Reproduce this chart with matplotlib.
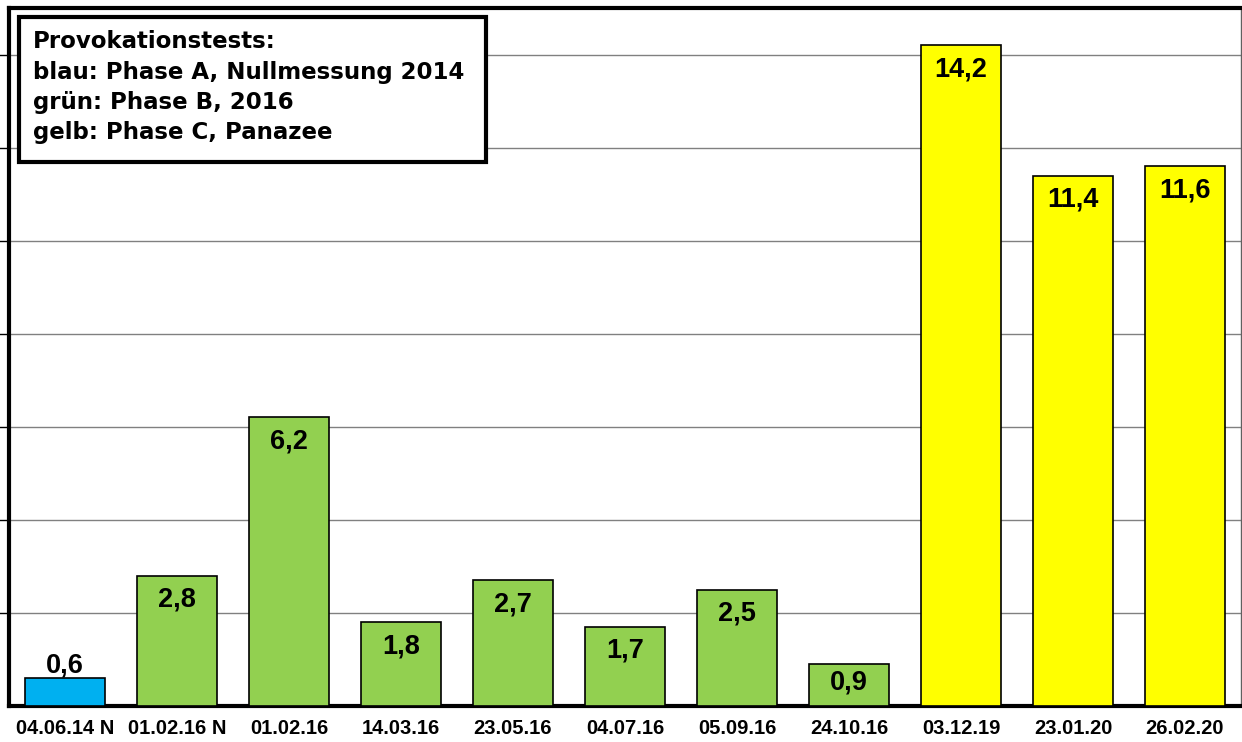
import matplotlib
matplotlib.use("Agg")
import matplotlib.pyplot as plt
from matplotlib.patches import Rectangle

categories = ["04.06.14 N", "01.02.16 N", "01.02.16", "14.03.16", "23.05.16",
              "04.07.16", "05.09.16", "24.10.16", "03.12.19", "23.01.20", "26.02.20"]
values = [0.6, 2.8, 6.2, 1.8, 2.7, 1.7, 2.5, 0.9, 14.2, 11.4, 11.6]
phases = ["A", "B", "B", "B", "B", "B", "B", "B", "C", "C", "C"]
phase_colors = {"A": "#00B0F0", "B": "#92D050", "C": "#FFFF00"}
legend_lines = ["Provokationstests:", "blau: Phase A, Nullmessung 2014",
                "grün: Phase B, 2016", "gelb: Phase C, Panazee"]

plt.rcParams['font.family'] = ['Liberation Sans', 'DejaVu Sans']

W, H = 1242, 742
fig = plt.figure(figsize=(W/100, H/100), dpi=100)
ax = fig.add_axes([9/W, 1-706/H, (1241-9)/W, (706-8)/H])

x = list(range(len(categories)))
cols = [phase_colors[p] for p in phases]
ax.bar(x, values, width=0.714, color=cols, edgecolor="black", linewidth=1.2, zorder=3)
ax.set_xlim(-0.5, len(categories)-0.5)
ax.set_ylim(0, 15)
ax.set_yticks(range(2, 15, 2))
ax.set_yticklabels([])
ax.tick_params(axis='y', direction='out', length=8, width=1, color='black')
ax.yaxis.grid(True, color='#808080', linewidth=1, zorder=0)
ax.set_xticks(x)
ax.set_xticklabels(categories, fontsize=14.5, fontweight='bold')
ax.tick_params(axis='x', length=0, pad=9)

for sp in ['left', 'top', 'bottom']:
    ax.spines[sp].set_linewidth(3)
ax.spines['right'].set_linewidth(1)
ax.spines['right'].set_color('#606060')

for xi, v in zip(x, values):
    label = f"{v:.1f}".replace(".", ",")
    if v < 0.8:
        off = 13
    elif v < 1.2:
        off = -18
    else:
        off = -24
    ax.annotate(label, (xi, v), xytext=(0, off), textcoords='offset pixels',
                ha='center', va='center', fontsize=19.5, fontweight='bold', zorder=4)

# legend box
bx0, by0, bx1, by1 = 19, 17, 486, 162
rect = Rectangle((bx0/W, 1-by1/H), (bx1-bx0)/W, (by1-by0)/H, transform=fig.transFigure,
                 facecolor='white', edgecolor='black', linewidth=3, zorder=10)
fig.patches.append(rect)
for i, line in enumerate(legend_lines):
    fig.text(33/W, 1-(42+30*i)/H, line, fontsize=16.5, fontweight='bold',
             family=['DejaVu Sans'], ha='left', va='center', zorder=11)

fig.savefig("out.png", dpi=100)
